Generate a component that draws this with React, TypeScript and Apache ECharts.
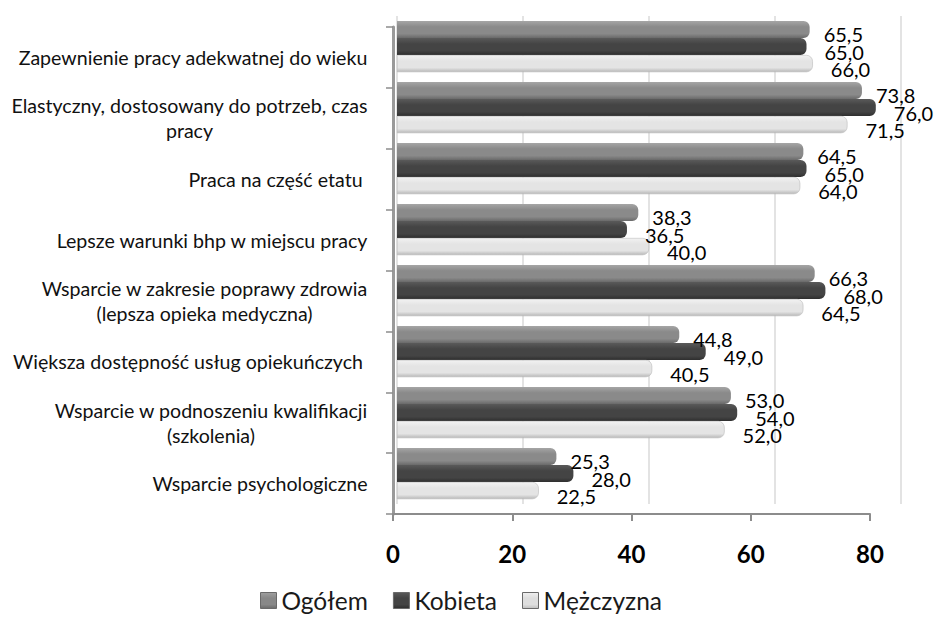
import React, { useEffect, useRef } from "react";
import * as echarts from "echarts";

const categories = [
  "Zapewnienie pracy adekwatnej do wieku",
  "Elastyczny, dostosowany do potrzeb, czas\npracy",
  "Praca na część etatu ",
  "Lepsze warunki bhp w miejscu pracy",
  "Wsparcie w zakresie poprawy zdrowia\n(lepsza opieka medyczna)",
  "Większa dostępność usług opiekuńczych ",
  "Wsparcie w podnoszeniu kwalifikacji\n(szkolenia)",
  "Wsparcie psychologiczne",
];
const seriesNames = ["Ogółem", "Kobieta", "Mężczyzna"];
const ogolem = [65.5, 73.8, 64.5, 38.3, 66.3, 44.8, 53.0, 25.3];
const kobieta = [65.0, 76.0, 65.0, 36.5, 68.0, 49.0, 54.0, 28.0];
const mezczyzna = [66.0, 71.5, 64.0, 40.0, 64.5, 40.5, 52.0, 22.5];
const xTicks = [0, 20, 40, 60, 80];

const FONT = "Lato, 'Liberation Sans', sans-serif";
const CAT_FONT_SIZE = 19.6;

function grad(top: string, mid: string, bot: string) {
  return new echarts.graphic.LinearGradient(0, 0, 0, 1, [
    { offset: 0, color: top },
    { offset: 0.35, color: mid },
    { offset: 0.75, color: mid },
    { offset: 1, color: bot },
  ]);
}

function measure(text: string, size: number) {
  const c = document.createElement("canvas").getContext("2d");
  if (!c) return text.length * size * 0.5;
  c.font = `${size}px Lato`;
  return c.measureText(text).width;
}

export default function App() {
  const ref = useRef<HTMLDivElement>(null);
  useEffect(() => {
    if (!ref.current) return;
    const chart = echarts.init(ref.current, undefined, { renderer: "svg" });
    const colors = [
      grad("#a6a6a6", "#8a8a8a", "#6a6a6a"),
      grad("#5a5a5a", "#444444", "#2e2e2e"),
      grad("#f2f2f2", "#e4e4e4", "#b8b8b8"),
    ];
    const legendColors = [
      grad("#a0a0a0", "#888888", "#6a6a6a"),
      grad("#5a5a5a", "#444444", "#2e2e2e"),
      grad("#f0f0f0", "#dedede", "#c0c0c0"),
    ];
    const labelDistances = [14, 18, 18];
    const datasets = [ogolem, kobieta, mezczyzna];
    const fmt = (p: any) => Number(p.value).toFixed(1).replace(".", ",");

    // rich styles so that multi-line labels are right-aligned as a block
    // while their lines are centred within the block
    const rich: Record<string, any> = {};
    categories.forEach((cat, i) => {
      const lines = cat.split("\n");
      const w = Math.ceil(Math.max(...lines.map((l) => measure(l, CAT_FONT_SIZE))));
      rich["c" + i] = {
        width: w,
        align: "center",
        fontSize: CAT_FONT_SIZE,
        lineHeight: 25,
        color: "#111",
        fontFamily: FONT,
      };
    });

    chart.setOption({
      animation: false,
      backgroundColor: "#ffffff",
      textStyle: { fontFamily: FONT },
      legend: {
        data: seriesNames.map((n, i) => ({
          name: n,
          itemStyle: { color: legendColors[i], borderColor: "#6a6a6a", borderWidth: 1 },
        })),
        bottom: 2,
        left: 255,
        itemWidth: 16,
        itemHeight: 16,
        itemGap: 25,
        icon: "rect",
        textStyle: { fontSize: 24.5, color: "#1a1a1a", fontFamily: FONT },
      },
      grid: [
        { left: 397, right: 35, top: 16, bottom: 116, containLabel: false },
        { left: 393, right: 66, top: 27, bottom: 106, containLabel: false },
      ],
      xAxis: [
        {
          gridIndex: 0,
          type: "value",
          min: 0,
          max: 80,
          interval: 20,
          axisLine: { show: false },
          axisTick: { show: false },
          axisLabel: { show: false },
          splitLine: { show: true, lineStyle: { color: "#e3e3e3", width: 2 } },
        },
        {
          gridIndex: 1,
          type: "value",
          min: 0,
          max: 80,
          interval: 20,
          axisLine: { show: true, lineStyle: { color: "#8c8c8c", width: 2 } },
          axisTick: { show: true, length: 7, lineStyle: { color: "#8c8c8c", width: 2 } },
          axisLabel: {
            show: true,
            fontSize: 24,
            fontWeight: "bold",
            color: "#000",
            margin: 27,
            fontFamily: FONT,
            formatter: (v: number) => (xTicks.includes(v) ? String(v) : ""),
          },
          splitLine: { show: false },
        },
      ],
      yAxis: [
        {
          gridIndex: 0,
          type: "category",
          data: categories,
          inverse: true,
          show: false,
        },
        {
          gridIndex: 1,
          type: "category",
          data: categories,
          inverse: true,
          axisLine: { show: true, lineStyle: { color: "#9a9a9a", width: 3 } },
          axisTick: { show: true, length: 7, lineStyle: { color: "#8c8c8c", width: 1.5 } },
          axisLabel: {
            fontSize: CAT_FONT_SIZE,
            color: "#111",
            margin: 25,
            align: "right",
            fontFamily: FONT,
            lineHeight: 25,
            rich,
            formatter: (v: string, idx: number) =>
              v
                .split("\n")
                .map((l) => `{c${idx}|${l}}`)
                .join("\n"),
          },
        },
      ],
      series: seriesNames.map((name, i) => ({
        name,
        type: "bar",
        xAxisIndex: 0,
        yAxisIndex: 0,
        data: datasets[i],
        barCategoryGap: "16%",
        barGap: "0%",
        itemStyle: {
          color: colors[i],
          borderRadius: [0, 6, 6, 0],
          borderColor: i === 2 ? "#b0b0b0" : undefined,
          borderWidth: i === 2 ? 0.5 : 0,
        },
        label: {
          show: true,
          position: "right",
          distance: labelDistances[i],
          offset: [0, 5],
          fontSize: 20,
          color: "#000",
          fontFamily: FONT,
          formatter: fmt,
        },
      })),
    });
    return () => chart.dispose();
  }, []);
  return (
    <div
      ref={ref}
      style={{ position: "fixed", left: 0, top: 0, width: 936, height: 620 }}
    />
  );
}
